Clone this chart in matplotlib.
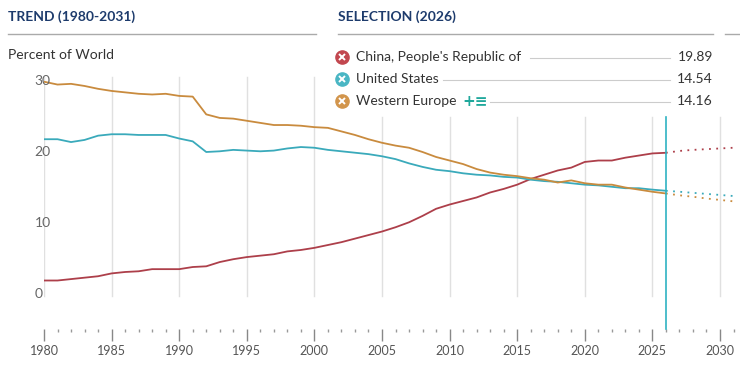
import matplotlib
matplotlib.use("Agg")
import matplotlib.pyplot as plt
from matplotlib.lines import Line2D

# ---------------------------------------------------------------------------
# Data (percent of world)
# ---------------------------------------------------------------------------
years = list(range(1980, 2027))
china = [1.9, 1.9, 2.1, 2.3, 2.5, 2.9, 3.1, 3.2, 3.5, 3.5,
         3.5, 3.8, 3.9, 4.5, 4.9, 5.2, 5.4, 5.6, 6.0, 6.2,
         6.5, 6.9, 7.3, 7.8, 8.3, 8.8, 9.4, 10.1, 11.0, 12.0,
         12.6, 13.1, 13.6, 14.3, 14.8, 15.4, 16.2, 16.8, 17.4, 17.8,
         18.6, 18.8, 18.8, 19.2, 19.5, 19.8, 19.89]
usa = [21.8, 21.8, 21.4, 21.7, 22.3, 22.5, 22.5, 22.4, 22.4, 22.4,
       21.9, 21.5, 20.0, 20.1, 20.3, 20.2, 20.1, 20.2, 20.5, 20.7,
       20.6, 20.3, 20.1, 19.9, 19.7, 19.4, 19.0, 18.4, 17.9, 17.5,
       17.3, 17.0, 16.8, 16.7, 16.5, 16.4, 16.1, 15.9, 15.8, 15.6,
       15.4, 15.3, 15.1, 14.9, 14.9, 14.7, 14.54]
w_europe = [29.9, 29.5, 29.6, 29.3, 28.9, 28.6, 28.4, 28.2, 28.1, 28.2,
            27.9, 27.8, 25.3, 24.8, 24.7, 24.4, 24.1, 23.8, 23.8, 23.7,
            23.5, 23.4, 22.9, 22.4, 21.8, 21.3, 20.9, 20.6, 20.0, 19.3,
            18.8, 18.3, 17.6, 17.1, 16.8, 16.6, 16.3, 16.1, 15.7, 16.0,
            15.6, 15.4, 15.4, 15.0, 14.7, 14.4, 14.16]

proj_years = list(range(2026, 2032))
china_proj = [19.89, 20.15, 20.3, 20.4, 20.5, 20.6]
usa_proj = [14.54, 14.4, 14.25, 14.1, 13.95, 13.8]
w_europe_proj = [14.16, 13.9, 13.7, 13.45, 13.25, 13.05]

names = ["China, People's Republic of", "United States", "Western Europe"]
values_2026 = ["19.89", "14.54", "14.16"]
y_ticks = [0, 10, 20, 30]
x_ticks = list(range(1980, 2031, 5))
selected_year = 2026

RED = "#ad3f4a"
CYAN = "#3aaabb"
ORANGE = "#c98b3e"
NAVY = "#1d3b6c"
FONT = "Lato"

W, H = 740, 375


def fx(px):
    return px / W


def fy(py):
    return 1 - py / H


fig = plt.figure(figsize=(7.4, 3.75), dpi=100)
ax = fig.add_axes([fx(44), fy(329), fx(733.5) - fx(44), fy(70) - fy(329)])
ax.set_xlim(1980, 2031)
ax.set_ylim(-4.93, 31.55)
for s in ax.spines.values():
    s.set_visible(False)

# vertical gridlines (those under the selection panel start lower)
for yr in x_ticks:
    top = 30.6 if yr <= 2000 else 24.9
    ax.plot([yr, yr], [-0.3, top], color="#e0e0e0", lw=1, zorder=1)

series = [(china, china_proj, RED), (usa, usa_proj, CYAN), (w_europe, w_europe_proj, ORANGE)]
for vals, proj, col in series:
    ax.plot(years, vals, color=col, lw=1.3, zorder=3, solid_capstyle="round")
    ax.plot(proj_years, proj, color=col, lw=1.3, ls=(0, (1, 3)), zorder=3)

# selected year marker
ax.plot([selected_year, selected_year], [-4.93, 24.9], color="#2fb3c2", lw=1.2, zorder=4,
        clip_on=False)

# y labels
for v in y_ticks:
    ax.text(1979.3, v, str(v), ha="left", va="center", fontsize=10, color="#666666",
            family=FONT, zorder=5, clip_on=False)

# x ticks
ax.set_yticks([])
ax.set_xticks(x_ticks)
ax.set_xticks(range(1980, 2032), minor=True)
ax.tick_params(axis="x", which="major", length=8.5, width=1, color="#888888", pad=3,
               labelsize=9, labelcolor="#555555")
ax.tick_params(axis="x", which="minor", length=2.5, width=1, color="#999999")
for lab in ax.get_xticklabels():
    lab.set_family(FONT)

# headers
fig.text(fx(8), fy(17), "TREND (1980-2031)", fontsize=10, fontweight="bold", color=NAVY,
         family=FONT, va="center")
fig.text(fx(338), fy(17), "SELECTION (2026)", fontsize=10, fontweight="bold", color=NAVY,
         family=FONT, va="center")
for x0, x1 in [(8, 316), (338, 713), (725, 740)]:
    fig.add_artist(Line2D([fx(x0), fx(x1)], [fy(34), fy(34)], color="#aaaaaa", lw=1,
                          transform=fig.transFigure))
fig.text(fx(8), fy(55), "Percent of World", fontsize=10, color="#333333", family=FONT,
         va="center")

# selection legend
row_y = [57, 79, 101]
line_start = [530, 443, 490]
marker_cols = ["#c2474f", "#4ab6c4", "#d2954c"]
for name, val, ry, ls, mc in zip(names, values_2026, row_y, line_start, marker_cols):
    fig.add_artist(Line2D([fx(342)], [fy(ry)], marker="o", markersize=9.5, color=mc,
                          lw=0, transform=fig.transFigure))
    fig.add_artist(Line2D([fx(342)], [fy(ry)], marker="x", markersize=4.2, color="white",
                          mew=1.4, lw=0, transform=fig.transFigure))
    fig.text(fx(356), fy(ry), name, fontsize=10, color="#333333", family=FONT, va="center")
    fig.text(fx(713), fy(ry), val, fontsize=10, color="#333333", family=FONT, va="center",
             ha="right")
    fig.add_artist(Line2D([fx(ls), fx(670)], [fy(ry + 1), fy(ry + 1)], color="#cccccc",
                          lw=0.8, transform=fig.transFigure))
fig.text(fx(462), fy(101), "+\u2261", fontsize=11, fontweight="bold", color="#20a89c",
         family=["DejaVu Sans"], va="center")

fig.savefig("out.png", dpi=100)
